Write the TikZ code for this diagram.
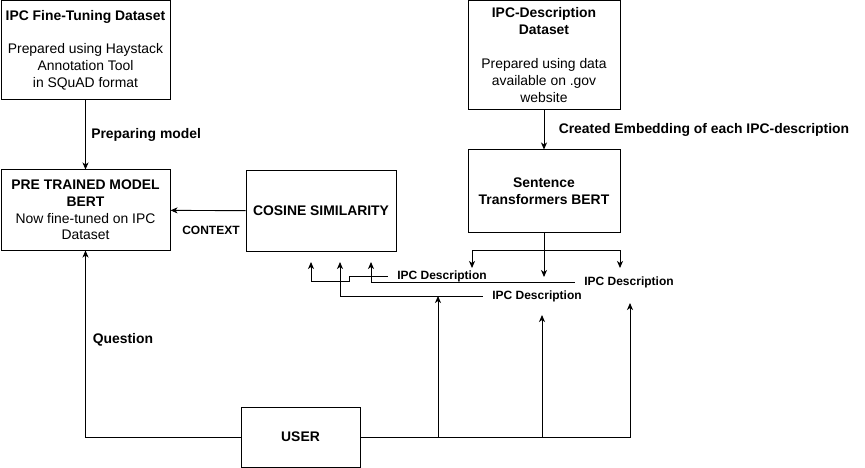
\documentclass[tikz,border=0pt]{standalone}
\usepackage{fontspec}
\setmainfont{Liberation Sans}
\usetikzlibrary{arrows.meta,positioning}

\begin{document}
\begin{tikzpicture}[x=1pt,y=-1pt,line width=0.9pt,>={Stealth[length=7pt,width=6pt,inset=2pt]},
   box/.style={draw,line width=1pt,align=center,inner sep=0pt,font=\fontsize{13.9}{16.8}\selectfont},
   lbl/.style={font=\bfseries\fontsize{13.9}{16}\selectfont},
   desc/.style={font=\bfseries\fontsize{12}{14}\selectfont,inner xsep=9pt,inner ysep=2pt}]
   \useasboundingbox (0,0) rectangle (865,468);
   % boxes
   \node[box,minimum width=169pt,minimum height=99pt] (FT) at (85.5,50) {\textbf{IPC Fine-Tuning Dataset}\\[17pt]Prepared using Haystack\\Annotation Tool\\in SQuAD format};
   \node[box,minimum width=169pt,minimum height=80pt] (PT) at (85.5,210) {\textbf{PRE TRAINED MODEL}\\\textbf{BERT}\\Now fine-tuned on IPC\\Dataset};
   \node[box,minimum width=150pt,minimum height=80pt] (CS) at (321,211) {\textbf{COSINE SIMILARITY}};
   \node[box,minimum width=152pt,minimum height=109pt] (ID) at (544,55) {\textbf{IPC-Description}\\\textbf{Dataset}\\[17pt]Prepared using data\\available on .gov\\website};
   \node[box,minimum width=152pt,minimum height=82pt] (ST) at (544,191) {\textbf{Sentence}\\\textbf{Transformers BERT}};
   \node[box,minimum width=119pt,minimum height=60pt] (US) at (300.5,437) {\textbf{USER}};
   % description labels
   \node[desc] (A) at (442,276) {IPC Description};
   \node[desc] (B) at (537,296) {IPC Description};
   \node[desc] (C) at (629,282) {IPC Description};
   \node[lbl,anchor=west] (Q) at (89,340) {Question};
   % arrow ends
   \coordinate (f) at (544,250);
   \coordinate (t1) at (472,268);
   \coordinate (t2) at (544,277);
   \coordinate (t3) at (620,268);
   \coordinate (c1) at (311,262);
   \coordinate (c2) at (340,262);
   \coordinate (c3) at (371,262);
   \coordinate (u1) at (438,296);
   \coordinate (u2) at (542,315);
   \coordinate (u3) at (630,303);

   \path[->]
   (FT) edge node[lbl,right=2pt] {Preparing model} (PT)
   (CS) edge node[font=\bfseries\fontsize{12}{14}\selectfont,below=12pt,xshift=3pt] {CONTEXT} (PT)
   (ID) edge node[lbl,right=11pt] {Created Embedding of each IPC-description} (ST);

   \draw[->] (ST) -- (t2);
   \draw[->] (f) -| (t1);
   \draw[->] (f) -| (t3);
   \draw[->] (A.west) -- ++(-38,0) -- ++(0,5) -| (c1);
   \draw[->] (B.west) -| (c2);
   \draw[->] (C.west) -| (c3);
   \draw[->] (US.west) -| (PT);
   \draw[->] (US.east) -| (u3);
   \draw[->] (US.east) -| (u1);
   \draw[->] (US.east -| u2) -- (u2);
\end{tikzpicture}
\end{document}
